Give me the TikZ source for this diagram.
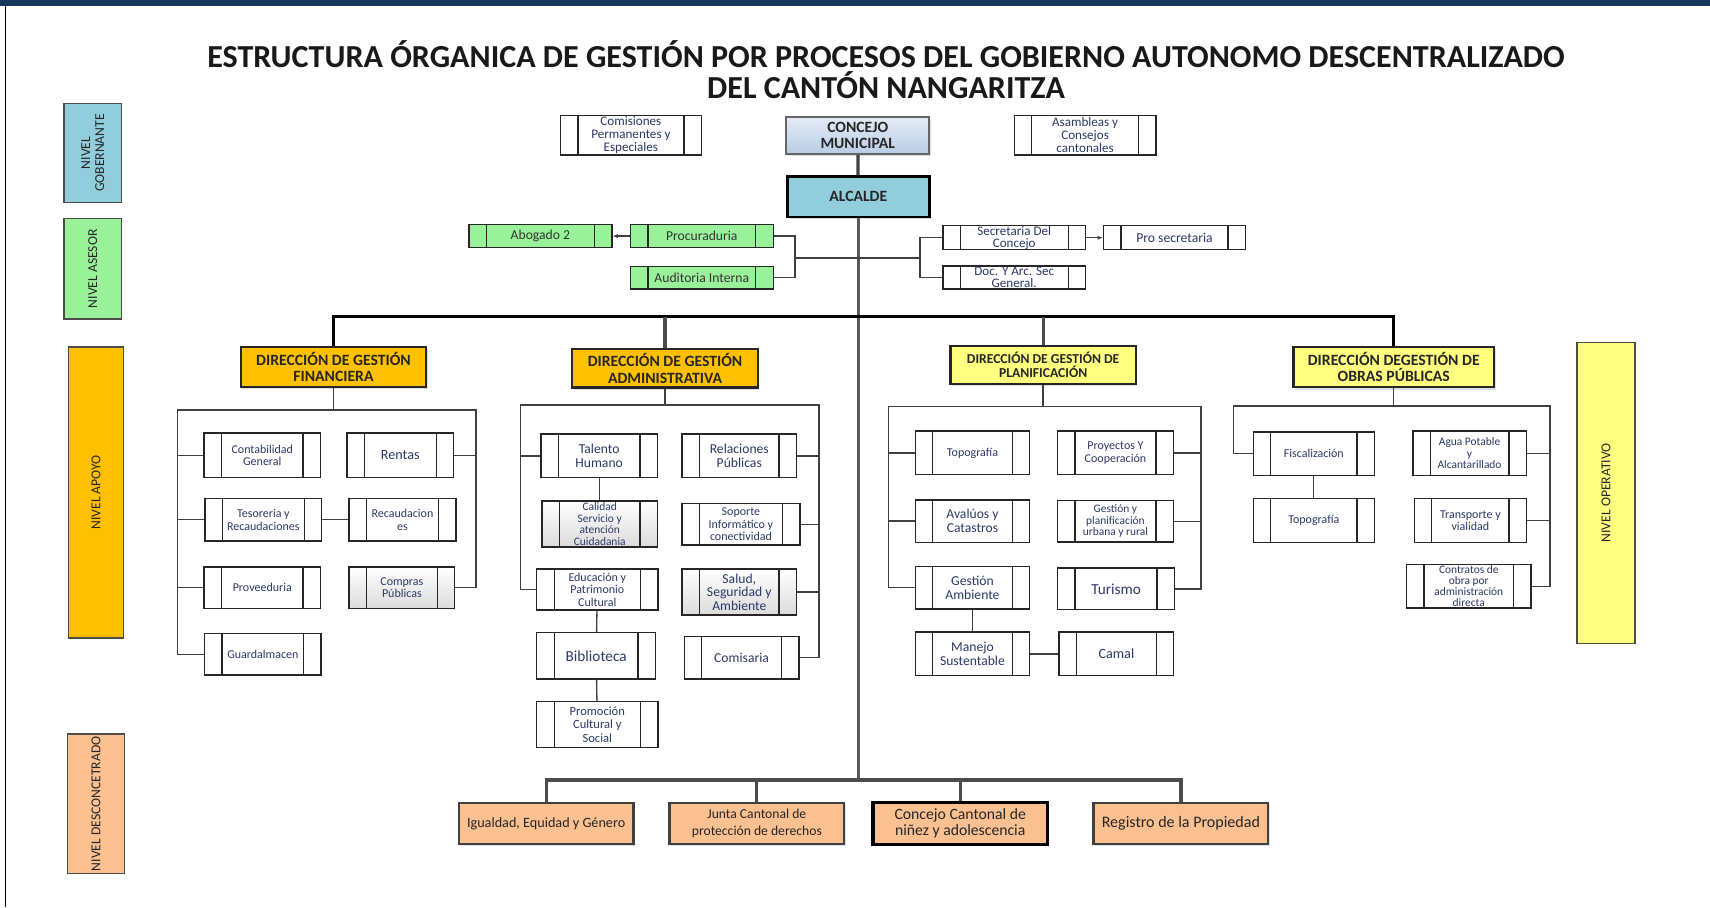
\documentclass[tikz,border=0pt]{standalone}
\usepackage{fontspec}
\setmainfont{Carlito}
\usepackage{xcolor}
\usetikzlibrary{calc, arrows.meta, shadows}

\definecolor{navy}{HTML}{17375E}
\definecolor{gobcol}{HTML}{92CDDC}
\definecolor{asecol}{HTML}{99F299}
\definecolor{apocol}{HTML}{FFC000}
\definecolor{opecol}{HTML}{FFFF80}
\definecolor{descol}{HTML}{FAC090}
\definecolor{procblue}{HTML}{2B3A67}
\definecolor{conctop}{HTML}{E4ECF6}
\definecolor{concbot}{HTML}{B9CDE5}

\tikzset{
  fsz/.style 2 args={font=\fontsize{#1}{#2}\selectfont},
  proc/.style 2 args={draw=black!85, line width=1.3pt, fill=white, text=procblue,
    minimum width=#1, minimum height=#2, inner sep=0pt, align=center, fsz={11}{11.5},
    path picture={\draw[line width=1.3pt, black!85]
      ([xshift=16pt]path picture bounding box.north west) -- ([xshift=16pt]path picture bounding box.south west)
      ([xshift=-16pt]path picture bounding box.north east) -- ([xshift=-16pt]path picture bounding box.south east);}},
  gris/.style={top color=white, bottom color=black!14},
  jefe/.style 2 args={draw=black!85, line width=2pt, minimum width=#1, minimum height=#2,
    inner sep=0pt, align=center, font=\bfseries\fontsize{14.4}{15}\selectfont, text=black!85,
    drop shadow={shadow xshift=1.5pt, shadow yshift=-2pt, opacity=.25}},
  lev/.style 2 args={draw=black!70, line width=1.3pt, minimum width=#1, minimum height=#2,
    inner sep=0pt, align=center, rotate=90, fsz={12.5}{13}, text=black!85},
  lk/.style={draw=black!75, line width=1.2pt},
  gruesa/.style={draw=black!70, line width=3pt},
}

\begin{document}
\begin{tikzpicture}[x=1pt, y=-1pt]
  \useasboundingbox (0,0) rectangle (1568,832);
  \fill[navy] (0,0) rectangle (1568,5.5);
  \draw[line width=1.2pt] (5.3,5.5) -- (5.3,832);

  \node[font=\bfseries\fontsize{29.4}{28}\selectfont, align=center, text=black!90] (titulo) at (812.5,64)
    {ESTRUCTURA ÓRGANICA DE GESTIÓN POR PROCESOS DEL GOBIERNO AUTONOMO DESCENTRALIZADO\\DEL CANTÓN NANGARITZA};

  % niveles
  \node[lev={91pt}{53pt}, fill=gobcol] (lvGob) at (85.1,140.3) {NIVEL\\GOBERNANTE};
  \node[lev={92pt}{53pt}, fill=asecol] (lvAse) at (85.1,246.5) {NIVEL ASESOR};
  \node[lev={267pt}{50pt}, fill=apocol] (lvApo) at (88,451.5) {NIVEL APOYO};
  \node[lev={128pt}{52pt}, fill=descol] (lvDes) at (88,737) {NIVEL DESCONCETRADO};
  \node[lev={276pt}{53pt}, fill=opecol] (lvOpe) at (1472.7,451.9) {NIVEL OPERATIVO};

  % gobernante
  \node[proc={129pt}{36pt}, fsz={12}{12}] (comis) at (578.5,124) {Comisiones\\Permanentes y\\Especiales};
  \node[jefe={131pt}{34pt}, top color=conctop, bottom color=concbot, draw=black!60] (concejo) at (786.5,124) {CONCEJO\\MUNICIPAL};
  \node[proc={130pt}{36pt}, fsz={12}{12}] (asamb) at (995,124) {Asambleas y\\Consejos\\cantonales};
  \node[jefe={130pt}{37pt}, fill=gobcol, line width=2.5pt, draw=black] (alcalde) at (787,180.5) {ALCALDE};

  % asesor
  \node[proc={131pt}{21pt}, fill=asecol, text=black!80, fsz={12.5}{13}] (abog) at (495.5,216.5) {Abogado 2};
  \node[proc={131pt}{21pt}, fill=asecol, text=black!80, fsz={12.5}{13}] (procu) at (643.5,216.5) {Procuraduria};
  \node[proc={131pt}{20.5pt}, fill=asecol, text=black!80, fsz={12.5}{13}] (audit) at (643.5,254.75) {Auditoria Interna};
  \node[proc={131pt}{22pt}, fsz={12}{11}] (secre) at (930,218) {Secretaria Del\\Concejo};
  \node[proc={130pt}{22pt}, fsz={12.5}{13}] (prosec) at (1077,218) {Pro secretaria};
  \node[proc={131pt}{21pt}, fsz={12}{11}] (docarc) at (930,254.5) {Doc. Y Arc. Sec\\General.};

  % direcciones
  \node[jefe={170pt}{37pt}, fill=apocol] (dfin) at (305.8,336.5) {DIRECCIÓN DE GESTIÓN\\FINANCIERA};
  \node[jefe={170pt}{35pt}, fill=apocol] (dadm) at (609.8,337.8) {DIRECCIÓN DE GESTIÓN\\ADMINISTRATIVA};
  \node[jefe={170pt}{35pt}, fill=opecol, font=\bfseries\fontsize{12.5}{13}\selectfont] (dpla) at (956.5,334.7) {DIRECCIÓN DE GESTIÓN DE\\PLANIFICACIÓN};
  \node[jefe={184pt}{37pt}, fill=opecol] (dobr) at (1278,336.7) {DIRECCIÓN DEGESTIÓN DE\\OBRAS PÚBLICAS};

  % financiera
  \node[proc={107pt}{41pt}] (conta) at (240.5,417.5) {Contabilidad\\General};
  \node[proc={107pt}{39pt}] (teso) at (241.5,476.5) {Tesoreria y\\Recaudaciones};
  \node[proc={107pt}{38pt}] (prove) at (240.5,539) {Proveeduria};
  \node[proc={107pt}{38pt}] (guard) at (241,600) {Guardalmacen};
  \node[proc={98pt}{41pt}, fsz={13}{14}] (rentas) at (367,417.5) {Rentas};
  \node[proc={98pt}{39pt}] (recaud) at (369,476.5) {Recaudacion\\es};
  \node[proc={97pt}{38pt}, gris] (compras) at (368.5,539) {Compras\\Públicas};

  % administrativa
  \node[proc={107pt}{40pt}, fsz={12.5}{13}] (talento) at (549.4,418) {Talento\\Humano};
  \node[proc={106pt}{42pt}, gris, fsz={10.5}{10.5}] (calidad) at (549.9,480.4) {Calidad\\Servicio y\\atención\\Cuidadania};
  \node[proc={111pt}{37.5pt}] (educ) at (547.7,540.5) {Educación y\\Patrimonio\\Cultural};
  \node[proc={109pt}{42.6pt}, fsz={14}{15}] (biblio) at (546.7,601.3) {Biblioteca};
  \node[proc={111pt}{42pt}, fsz={11.5}{12.5}] (promo) at (547.7,664.3) {Promoción\\Cultural y\\Social};
  \node[proc={105pt}{40pt}, fsz={12.5}{13}] (relac) at (677.9,418) {Relaciones\\Públicas};
  \node[proc={108pt}{38pt}] (soporte) at (679.4,480.9) {Soporte\\Informático y\\conectividad};
  \node[proc={105pt}{42pt}, gris, fsz={12.5}{12.5}] (salud) at (677.9,542.8) {Salud,\\Seguridad y\\Ambiente};
  \node[proc={105pt}{39pt}, fsz={12.5}{13}] (comisa) at (680,603.2) {Comisaria};

  % planificacion
  \node[proc={105pt}{40pt}] (topo) at (891.7,415.3) {Topografía};
  \node[proc={105pt}{39pt}, fsz={12.5}{13}] (aval) at (891.7,477.8) {Avalúos y\\Catastros};
  \node[proc={105pt}{39pt}, fsz={12.5}{13}] (gamb) at (891.7,539) {Gestión\\Ambiente};
  \node[proc={105pt}{40pt}, fsz={12.5}{13}] (manejo) at (891.7,599.6) {Manejo\\Sustentable};
  \node[proc={106pt}{40pt}] (proy) at (1022.8,415.3) {Proyectos Y\\Cooperación};
  \node[proc={106pt}{38pt}, fsz={10.5}{10.5}] (gplan) at (1022.8,478) {Gestión y\\planificación\\urbana y rural};
  \node[proc={107pt}{38pt}, fsz={14}{15}] (turismo) at (1023.4,540) {Turismo};
  \node[proc={105pt}{40pt}, fsz={13}{14}] (camal) at (1023.7,599.6) {Camal};

  % obras publicas
  \node[proc={111pt}{40pt}] (fisc) at (1204.7,416) {Fiscalización};
  \node[proc={111pt}{40pt}] (topob) at (1204.7,477.3) {Topografía};
  \node[proc={104pt}{41pt}, fsz={10.5}{10.5}] (agua) at (1347.5,415.6) {Agua Potable\\y\\Alcantarillado};
  \node[proc={103pt}{40pt}] (transp) at (1348.3,477.3) {Transporte y\\vialidad};
  \node[proc={114pt}{40pt}, fsz={10.5}{10}] (contr) at (1346.8,537.6) {Contratos de\\obra por\\administración\\directa};

  % desconcentrado
  \node[jefe={160pt}{38pt}, fill=descol, font=\fontsize{13}{15}\selectfont, line width=2.2pt, draw=black!75] (igual) at (500.8,755.1) {Igualdad, Equidad y Género};
  \node[jefe={160pt}{38pt}, fill=descol, font=\fontsize{12.5}{15}\selectfont, line width=2.2pt, draw=black!75] (junta) at (694,755.1) {Junta Cantonal de\\protección de derechos};
  \node[jefe={160pt}{38pt}, fill=descol, font=\fontsize{14.4}{15}\selectfont, line width=2.8pt, draw=black] (ccna) at (880.5,755.1) {Concejo Cantonal de\\niñez y adolescencia};
  \node[jefe={160pt}{38pt}, fill=descol, font=\fontsize{14.7}{15}\selectfont, line width=2.2pt, draw=black!75] (regis) at (1082.8,755.1) {Registro de la Propiedad};

  % lineas principales
  \coordinate (dirbar) at (787,290.3);
  \coordinate (desbar) at (787,715.2);
  \draw[gruesa, draw=black!75] (concejo) -- (alcalde);
  \draw[gruesa, draw=black!65] (alcalde.south) -- (desbar);
  \draw[gruesa, draw=black] (dfin.north) |- (dirbar) -| (dobr.north);
  \draw[gruesa] (dadm.north) -- (dadm.north |- dirbar);
  \draw[gruesa] (dpla.north) -- (dpla.north |- dirbar);
  \draw[gruesa] (igual.north) |- (desbar) -| (regis.north);
  \draw[gruesa] (junta.north) -- (junta.north |- desbar);
  \draw[gruesa] (ccna.north) -- (ccna.north |- desbar);

  % asesor
  \coordinate (asL) at (729,236.5);
  \coordinate (asR) at (843.5,236.5);
  \draw[lk] (procu.east) -| (asL) |- (audit.east);
  \draw[lk] (asL) -- (asR);
  \draw[lk] (secre.west) -| (asR) |- (docarc.west);
  \draw[lk, -{Latex[length=5pt, width=4pt]}] (procu) -- (abog);
  \draw[lk, -{Latex[length=5pt, width=4pt]}] (secre) -- (prosec);

  % ramas financiera
  \coordinate (finL) at (162.5,376);
  \coordinate (finR) at (436.5,376);
  \draw[lk] (dfin.south) |- (finL) |- (guard.west);
  \draw[lk] (dfin.south) |- (finR) |- (compras.east);
  \foreach \n in {conta,teso,prove} \draw[lk] (finL) |- (\n.west);
  \draw[lk] (finR) |- (rentas.east);
  \draw[lk] (teso) -- (recaud);

  % ramas administrativa
  \coordinate (admL) at (477.4,371.4);
  \coordinate (admR) at (751,371.4);
  \draw[lk] (dadm.south) |- (admL) |- (educ.west);
  \draw[lk] (dadm.south) |- (admR) |- (comisa.east);
  \draw[lk] (admL) |- (talento.west);
  \foreach \n in {relac,soporte,salud} \draw[lk] (admR) |- (\n.east);
  \draw[lk] (talento.south) -- (talento.south |- calidad.north);
  \draw[lk] (educ) -- (biblio);
  \draw[lk] (biblio) -- (promo);

  % ramas planificacion
  \coordinate (plaL) at (814.5,372.9);
  \coordinate (plaR) at (1101.2,372.9);
  \draw[lk] (dpla.south) |- (plaL) |- (gamb.west);
  \draw[lk] (dpla.south) |- (plaR) |- (turismo.east);
  \foreach \n in {topo,aval} \draw[lk] (plaL) |- (\n.west);
  \foreach \n in {proy,gplan} \draw[lk] (plaR) |- (\n.east);
  \draw[lk] (gamb) -- (manejo);
  \draw[lk] (manejo) -- (camal);

  % ramas obras publicas
  \coordinate (obrL) at (1130.9,372.3);
  \coordinate (obrR) at (1421.3,372.3);
  \draw[lk] (dobr.south) |- (obrL) |- (fisc.west);
  \draw[lk] (dobr.south) |- (obrR) |- (contr.east);
  \foreach \n in {agua,transp} \draw[lk] (obrR) |- (\n.east);
  \draw[lk] (fisc) -- (topob);
\end{tikzpicture}
\end{document}
